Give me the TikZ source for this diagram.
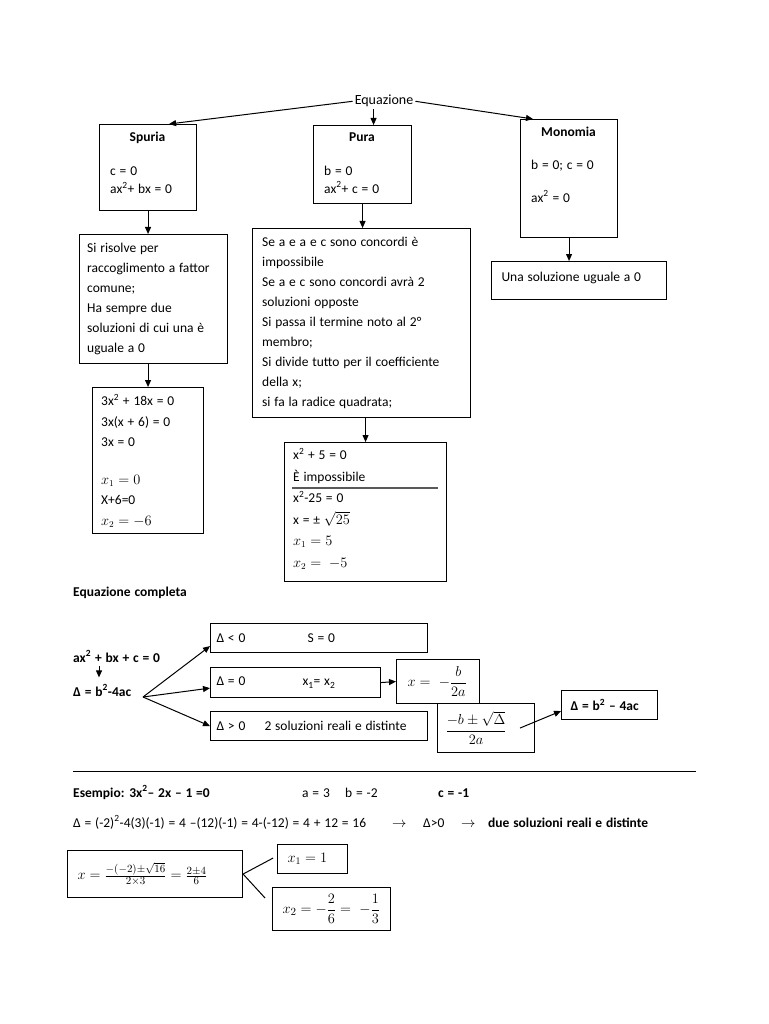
\documentclass[tikz,border=0pt]{standalone}
\usepackage{amsmath}
\usepackage{fontspec}
\setmainfont{Carlito}[WordSpace=1.25]
\usetikzlibrary{arrows.meta}
\newcommand{\ftxt}{\fontsize{13.5}{20}\selectfont}
\tikzset{
  box/.style={draw, line width=1.1pt, anchor=north west, inner sep=0pt},
  lbox/.style={box, align=flush left, font=\ftxt},
  txt/.style={anchor=north west, inner sep=0pt, align=left, font=\ftxt},
  lbl/.style={anchor=base west, inner sep=0pt, font=\ftxt},
  ttl/.style={anchor=base, inner sep=0pt, font=\ftxt\bfseries},
  arr/.style={-{Triangle[length=7pt,width=6pt]}, line width=1pt},
  link/.style={line width=1pt},
}
\begin{document}
\begin{tikzpicture}[x=1pt,y=-1pt]
        \useasboundingbox (0,0) rectangle (768,1024);

        % Equazione e i tre casi incompleti
        \node[lbl, anchor=base, inner sep=2pt, font=\fontsize{14}{20}\selectfont] (eq) at (384,105) {Equazione};
        \node[box, minimum width=97, minimum height=86] (spuria) at (99,124) {};
        \node[box, minimum width=98, minimum height=78] (pura) at (313,125) {};
        \node[box, minimum width=97, minimum height=118] (monomia) at (520,119) {};
        \node[ttl] (spuriat) at (147.5,142) {Spuria};
        \node[ttl] (purat) at (362,142) {Pura};
        \node[ttl] (monomiat) at (568.5,137) {Monomia};
        \node[txt, font=\fontsize{13.5}{18}\selectfont] (spuriab) at (110,166.5) {c = 0\\ax\textsuperscript{2}+ bx = 0};
        \node[txt, font=\fontsize{13.5}{18}\selectfont] (purab) at (324,165.5) {b = 0\\ax\textsuperscript{2}+ c = 0};
        \node[txt] (monomiab) at (531,159.5) {b = 0; c = 0\\[13pt]ax\textsuperscript{2} = 0};

        \coordinate (puratop) at ([xshift=11]pura.north);
        \draw[arr] (eq.west) -- ([xshift=21]spuria.north);
        \draw[arr] (puratop |- eq.south) -- (puratop);
        \draw[arr] (eq.east) -- ([xshift=13]monomia.north west);

        % Spuria
        \node[box, minimum width=148, minimum height=129] (risolve) at (79,234) {};
        \node[txt] (risolvet) at (87,242.5) {Si risolve per\\raccoglimento a fattor\\comune;\\Ha sempre due\\soluzioni di cui una è\\uguale a 0};
        \node[box, minimum width=111, minimum height=146] (esspuria) at (92,387) {};
        \node[txt, font=\fontsize{13.5}{20.5}\selectfont] (esspuriat) at (101,394)
            {3x\textsuperscript{2} + 18x = 0\\3x(x + 6) = 0\\3x = 0\\[17pt]$x_1 = 0$\\X+6=0\\$x_2 = -6$};
        \draw[arr] (spuria.south) -- (spuria.south |- risolve.north);
        \draw[arr] (esspuria.north |- risolve.south) -- (esspuria.north);

        % Pura
        \node[box, minimum width=218, minimum height=189] (regole) at (252,228) {};
        \node[txt] (regolet) at (262,236.5) {Se a e a e c sono concordi è\\impossibile\\Se a e c sono concordi avrà 2\\soluzioni opposte\\Si passa il termine noto al 2°\\membro;\\Si divide tutto per il coefficiente\\della x;\\si fa la radice quadrata;};
        \node[box, minimum width=162, minimum height=139] (espura) at (284,442) {};
        \node[txt, font=\fontsize{13.5}{21.5}\selectfont] (espurat) at (293,448)
            {x\textsuperscript{2} + 5 = 0\\È impossibile\\x\textsuperscript{2}-25 = 0\\x = ± $\sqrt{25}$\\$x_1 = 5$\\$x_2 = \ -5$};
        \draw[line width=1.3pt, black!65] (292,488) -- (438,488);
        \draw[arr] (pura.south) -- (pura.south |- regole.north);
        \draw[arr] (espura.north |- regole.south) -- (espura.north);

        % Monomia
        \node[lbox, minimum width=175, minimum height=38, text width=155, inner xsep=10, text depth=8] (una) at (491,261) {Una soluzione uguale a 0};
        \draw[arr] (monomia.south) -- (monomia.south |- una.north);

        % Equazione completa
        \node[lbl, font=\ftxt\bfseries] (completa) at (73,596) {Equazione completa};
        \node[lbl, font=\ftxt\bfseries] (quad) at (73,662) {ax\textsuperscript{2} + bx + c = 0};
        \node[lbl, font=\ftxt\bfseries] (delta) at (73,696) {Δ = b\textsuperscript{2}-4ac};
        \coordinate (tick) at (99,0);
        \draw[arr, shorten <=4pt, shorten >=7pt] (quad.south -| tick) -- (delta.north -| tick);

        \node[lbox, minimum width=217, minimum height=29, text width=205, inner xsep=6] (neg) at (210,623) {\makebox[91pt][l]{Δ < 0}S = 0};
        \node[lbox, minimum width=170, minimum height=30, text width=158, inner xsep=6] (zero) at (210,667) {\makebox[86pt][l]{Δ = 0}x\textsubscript{1}= x\textsubscript{2}};
        \node[lbox, minimum width=217, minimum height=29, text width=205, inner xsep=6] (pos) at (210,711) {\makebox[48pt][l]{Δ > 0}2 soluzioni reali e distinte};
        \coordinate (fork) at (143,697);
        \draw[arr] (fork) -- ([yshift=7]neg.south west);
        \draw[arr] (fork) -- ([yshift=10]zero.south west);
        \draw[arr] (fork) -- (pos.west);

        \node[lbox, minimum width=83, minimum height=44, text width=61, inner xsep=11, font=\fontsize{15}{20}\selectfont] (xb) at (396,659) {$x = \ -\dfrac{b}{2a}$};
        \node[lbox, fill=white, minimum width=97, minimum height=49, text width=81, inner xsep=8] (xpm) at (437,703) {$\dfrac{-b \pm \sqrt{\Delta}}{2a}$};
        \node[lbox, minimum width=96, minimum height=29, text width=78, inner xsep=9, font=\ftxt\bfseries] (disc) at (561,690) {Δ = b\textsuperscript{2} – 4ac};
        \draw[arr] (zero.east) -- (xb.west);
        \draw[arr] ([xshift=83]xpm.west) -- ([yshift=-6]disc.west);

        \draw[link] (73,771) -- (696,771);

        % Esempio
        \node[lbl, font=\ftxt\bfseries] (esempio) at (73,797) {Esempio: 3x\textsuperscript{2}– 2x – 1 =0};
        \node[lbl] (va) at (302,797) {a = 3};
        \node[lbl] (vb) at (345,797) {b = -2};
        \node[lbl, font=\ftxt\bfseries] (vc) at (438,797) {c = -1};
        \node[lbl] (calc) at (73,827) {Δ = (-2)\textsuperscript{2}-4(3)(-1) = 4 –(12)(-1) = 4-(-12) = 4 + 12 = 16};
        \node[lbl] (fr1) at (392,827) {$\rightarrow$};
        \node[lbl] (dpos) at (423,827) {Δ>0};
        \node[lbl] (fr2) at (461,827) {$\rightarrow$};
        \node[lbl, font=\ftxt\bfseries] (sol) at (488,827) {due soluzioni reali e distinte};

        \node[lbox, minimum width=175, minimum height=47, text width=155, inner xsep=10, font=\fontsize{15.5}{20}\selectfont] (xbox) at (67,850)
            {$x = \frac{-(-2)\pm\sqrt{16}}{2\times 3} = \frac{2\pm 4}{6}$};
        \node[lbox, minimum width=70, minimum height=29, text width=50, inner xsep=10, font=\fontsize{14.5}{20}\selectfont] (xuno) at (277,844) {$x_1 = 1$};
        \node[lbox, minimum width=118, minimum height=43, text width=98, inner xsep=10, font=\fontsize{15}{20}\selectfont] (xdue) at (272,887) {$x_2 = -\dfrac{2}{6} = \ -\dfrac{1}{3}$};
        \draw[link] (xbox.east) -- ++(30,-16);
        \draw[link] (xbox.east) -- ++(22,24);
    \end{tikzpicture}
\end{document}
